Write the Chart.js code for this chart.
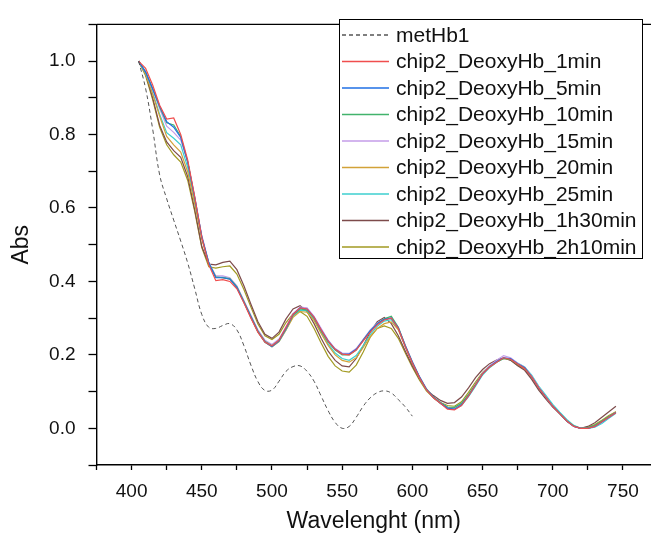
<!DOCTYPE html>
<html>
<head>
<meta charset="utf-8">
<script src="https://cdn.jsdelivr.net/npm/chart.js@4.4.1/dist/chart.umd.min.js"></script>
<style>
  html, body { margin: 0; padding: 0; background: #fff; overflow: hidden; }
</style>
</head>
<body>
<canvas id="spectra" width="651" height="535"></canvas>
<script>
// wavelengths (nm) of the chip2 scans
const wavelengths = [405, 410, 415, 420, 425, 430, 435, 440, 445, 450, 455, 460, 465, 470, 475, 480, 485, 490, 495, 500,
  505, 510, 515, 520, 525, 530, 535, 540, 545, 550, 555, 560, 565, 570, 575, 580, 585, 590, 595, 600,
  605, 610, 615, 620, 625, 630, 635, 640, 645, 650, 655, 660, 665, 670, 675, 680, 685, 690, 695, 700,
  705, 710, 715, 720, 725, 730, 735, 740, 745];

// reference scan only goes to 600 nm
const metWavelengths = [405, 410, 415, 420, 425, 430, 435, 440, 445, 450, 455, 460, 465, 470, 475, 480, 485, 490, 495, 500,
  505, 510, 515, 520, 525, 530, 535, 540, 545, 550, 555, 560, 565, 570, 575, 580, 585, 590, 595, 600];

const metHb1 = [1.0, 0.925, 0.815, 0.69, 0.625, 0.567, 0.51, 0.45, 0.38, 0.31, 0.275, 0.272, 0.28, 0.285, 0.268, 0.225, 0.172, 0.127, 0.103, 0.104,
  0.128, 0.155, 0.168, 0.17, 0.155, 0.128, 0.088, 0.048, 0.016, 0.0, 0.005, 0.03, 0.06, 0.083, 0.097, 0.102, 0.096, 0.078, 0.058, 0.033];

const deoxy1min = [1.0, 0.98, 0.935, 0.88, 0.842, 0.845, 0.8, 0.73, 0.63, 0.52, 0.445, 0.402, 0.405, 0.4, 0.38, 0.342, 0.3, 0.262, 0.235, 0.225,
  0.24, 0.275, 0.31, 0.328, 0.325, 0.302, 0.268, 0.237, 0.215, 0.202, 0.2, 0.213, 0.238, 0.262, 0.282, 0.295, 0.3, 0.272, 0.222, 0.178,
  0.138, 0.105, 0.083, 0.068, 0.052, 0.05, 0.062, 0.088, 0.118, 0.148, 0.167, 0.18, 0.192, 0.188, 0.175, 0.163, 0.14, 0.11, 0.085, 0.06,
  0.04, 0.02, 0.005, 0.0, 0.0, 0.005, 0.018, 0.03, 0.042];

const deoxy5min = [1.0, 0.97, 0.925, 0.878, 0.835, 0.82, 0.792, 0.725, 0.628, 0.522, 0.45, 0.41, 0.41, 0.406, 0.383, 0.343, 0.303, 0.263, 0.235, 0.223,
  0.238, 0.272, 0.31, 0.328, 0.325, 0.302, 0.268, 0.238, 0.215, 0.203, 0.202, 0.215, 0.24, 0.265, 0.285, 0.297, 0.3, 0.273, 0.224, 0.18,
  0.14, 0.106, 0.084, 0.068, 0.055, 0.052, 0.064, 0.088, 0.118, 0.148, 0.168, 0.182, 0.192, 0.19, 0.176, 0.165, 0.14, 0.11, 0.085, 0.06,
  0.04, 0.02, 0.005, 0.0, 0.0, 0.005, 0.017, 0.03, 0.043];

const deoxy10min = [1.0, 0.97, 0.925, 0.875, 0.832, 0.826, 0.795, 0.725, 0.625, 0.52, 0.45, 0.412, 0.41, 0.408, 0.385, 0.345, 0.305, 0.265, 0.237, 0.225,
  0.24, 0.272, 0.308, 0.325, 0.322, 0.3, 0.265, 0.235, 0.213, 0.2, 0.2, 0.213, 0.24, 0.265, 0.285, 0.298, 0.305, 0.275, 0.225, 0.18,
  0.14, 0.107, 0.085, 0.07, 0.058, 0.057, 0.068, 0.092, 0.12, 0.148, 0.167, 0.18, 0.19, 0.188, 0.175, 0.165, 0.14, 0.11, 0.085, 0.06,
  0.04, 0.02, 0.006, 0.0, 0.002, 0.008, 0.02, 0.032, 0.043];

const deoxy15min = [1.0, 0.97, 0.922, 0.87, 0.823, 0.806, 0.785, 0.725, 0.628, 0.525, 0.452, 0.415, 0.415, 0.41, 0.388, 0.348, 0.308, 0.268, 0.24, 0.228,
  0.243, 0.277, 0.312, 0.33, 0.328, 0.305, 0.272, 0.24, 0.217, 0.205, 0.204, 0.217, 0.242, 0.268, 0.287, 0.298, 0.302, 0.275, 0.226, 0.182,
  0.142, 0.108, 0.085, 0.07, 0.057, 0.055, 0.067, 0.09, 0.12, 0.15, 0.17, 0.185, 0.198, 0.192, 0.177, 0.166, 0.142, 0.112, 0.086, 0.06,
  0.04, 0.02, 0.005, 0.0, 0.0, 0.005, 0.017, 0.03, 0.043];

const deoxy20min = [1.0, 0.965, 0.91, 0.85, 0.795, 0.772, 0.752, 0.698, 0.61, 0.515, 0.448, 0.412, 0.41, 0.406, 0.384, 0.343, 0.302, 0.262, 0.234, 0.222,
  0.236, 0.268, 0.302, 0.318, 0.316, 0.293, 0.258, 0.226, 0.2, 0.185, 0.18, 0.192, 0.22, 0.25, 0.272, 0.285, 0.29, 0.268, 0.222, 0.178,
  0.138, 0.105, 0.083, 0.068, 0.057, 0.055, 0.066, 0.09, 0.12, 0.15, 0.168, 0.182, 0.19, 0.188, 0.175, 0.164, 0.14, 0.11, 0.085, 0.06,
  0.04, 0.02, 0.006, 0.0, 0.002, 0.008, 0.02, 0.032, 0.045];

const deoxy25min = [1.0, 0.965, 0.915, 0.855, 0.805, 0.79, 0.772, 0.71, 0.618, 0.52, 0.45, 0.412, 0.412, 0.408, 0.386, 0.345, 0.303, 0.263, 0.235, 0.222,
  0.236, 0.268, 0.305, 0.322, 0.32, 0.297, 0.262, 0.23, 0.205, 0.19, 0.185, 0.198, 0.225, 0.255, 0.278, 0.292, 0.296, 0.27, 0.222, 0.178,
  0.138, 0.105, 0.083, 0.068, 0.055, 0.052, 0.062, 0.086, 0.115, 0.145, 0.165, 0.18, 0.19, 0.19, 0.178, 0.167, 0.145, 0.115, 0.09, 0.065,
  0.044, 0.024, 0.008, 0.0, 0.0, 0.003, 0.013, 0.027, 0.041];

const deoxy1h30min = [1.0, 0.965, 0.9, 0.825, 0.78, 0.756, 0.738, 0.685, 0.595, 0.495, 0.447, 0.445, 0.452, 0.455, 0.432, 0.388, 0.338, 0.29, 0.256, 0.245,
  0.262, 0.298, 0.325, 0.334, 0.318, 0.285, 0.245, 0.21, 0.185, 0.17, 0.167, 0.19, 0.225, 0.262, 0.29, 0.302, 0.285, 0.252, 0.21, 0.17,
  0.135, 0.106, 0.089, 0.076, 0.068, 0.07, 0.085, 0.11, 0.138, 0.16, 0.176, 0.186, 0.192, 0.185, 0.17, 0.158, 0.133, 0.104, 0.08, 0.058,
  0.04, 0.02, 0.006, 0.0, 0.005, 0.015, 0.03, 0.045, 0.06];

const deoxy2h10min = [1.0, 0.96, 0.895, 0.82, 0.772, 0.745, 0.725, 0.675, 0.59, 0.492, 0.44, 0.436, 0.44, 0.442, 0.42, 0.378, 0.33, 0.284, 0.252, 0.242,
  0.256, 0.288, 0.312, 0.318, 0.305, 0.272, 0.232, 0.196, 0.17, 0.156, 0.153, 0.172, 0.208, 0.248, 0.272, 0.279, 0.272, 0.245, 0.205, 0.166,
  0.132, 0.102, 0.083, 0.07, 0.062, 0.06, 0.072, 0.098, 0.126, 0.152, 0.17, 0.182, 0.19, 0.186, 0.172, 0.162, 0.138, 0.108, 0.083, 0.06,
  0.04, 0.02, 0.006, 0.0, 0.003, 0.01, 0.022, 0.035, 0.045];

const seriesNames = ['chip2_DeoxyHb_1min', 'chip2_DeoxyHb_5min', 'chip2_DeoxyHb_10min', 'chip2_DeoxyHb_15min',
  'chip2_DeoxyHb_20min', 'chip2_DeoxyHb_25min', 'chip2_DeoxyHb_1h30min', 'chip2_DeoxyHb_2h10min'];
const seriesValues = [deoxy1min, deoxy5min, deoxy10min, deoxy15min, deoxy20min, deoxy25min, deoxy1h30min, deoxy2h10min];
const seriesColors = ['#F04E4E', '#1F6FE5', '#42B36C', '#C49CE8', '#D2A238', '#3CCFCF', '#7D4B4B', '#A29A22'];

const FONT = 'Arial, "Liberation Sans", Helvetica, sans-serif';

const toPoints = (xs, ys) => xs.map((x, i) => ({ x: x, y: ys[i] }));

const datasets = [{
  label: 'metHb1',
  data: toPoints(metWavelengths, metHb1),
  borderColor: '#555555',
  borderWidth: 1,
  borderDash: [4, 3],
  tension: 0.4,
  pointRadius: 0,
  fill: false
}];
seriesValues.forEach((vals, i) => {
  datasets.push({
    label: seriesNames[i],
    data: toPoints(wavelengths, vals),
    borderColor: seriesColors[i],
    borderWidth: 1.2,
    tension: 0,
    pointRadius: 0,
    fill: false
  });
});

// top frame line of the plot box
const frame = {
  id: 'frame',
  afterDraw(chart) {
    const { ctx, chartArea } = chart;
    ctx.save();
    ctx.strokeStyle = '#000';
    ctx.lineWidth = 1.4;
    ctx.beginPath();
    ctx.moveTo(chartArea.left, chartArea.top);
    ctx.lineTo(chartArea.right, chartArea.top);
    ctx.stroke();
    ctx.restore();
  }
};

// boxed legend in the upper right, like the Origin one
const boxLegend = {
  id: 'boxLegend',
  afterDraw(chart) {
    const ctx = chart.ctx;
    const x0 = 339, y0 = 19, w = 303, h = 239, row = 26.5, first = 35;
    ctx.save();
    ctx.fillStyle = '#fff';
    ctx.fillRect(x0, y0, w, h);
    ctx.strokeStyle = '#000';
    ctx.lineWidth = 1;
    ctx.strokeRect(x0 + 0.5, y0 + 0.5, w, h);
    ctx.font = '21px ' + FONT;
    ctx.textBaseline = 'middle';
    chart.data.datasets.forEach((ds, i) => {
      const y = first + i * row;
      ctx.strokeStyle = ds.borderColor;
      ctx.lineWidth = 1.5;
      ctx.setLineDash(ds.borderDash || []);
      ctx.beginPath();
      ctx.moveTo(342, y);
      ctx.lineTo(389, y);
      ctx.stroke();
      ctx.setLineDash([]);
      ctx.fillStyle = '#111';
      ctx.fillText(ds.label, 396, y + 1);
    });
    ctx.restore();
  }
};

new Chart(document.getElementById('spectra').getContext('2d'), {
  type: 'line',
  data: { datasets: datasets },
  options: {
    responsive: false,
    animation: false,
    devicePixelRatio: 1,
    layout: { padding: { top: 13.5, right: 0, bottom: 0, left: 0 } },
    plugins: {
      legend: { display: false },
      tooltip: { enabled: false }
    },
    scales: {
      x: {
        type: 'linear',
        min: 375,
        max: 770,
        border: { color: '#000', width: 1.4 },
        grid: { drawOnChartArea: false, drawTicks: true, tickLength: 5, color: '#000', tickWidth: 1.3 },
        ticks: {
          stepSize: 25,
          includeBounds: false,
          autoSkip: false,
          maxRotation: 0,
          padding: 10,
          color: '#111',
          font: { family: FONT, size: 19 },
          callback: v => (v % 50 === 0 ? String(v) : '')
        },
        title: {
          display: true,
          text: 'Wavelenght (nm)',
          color: '#111',
          font: { family: FONT, size: 23 },
          padding: { top: 0, bottom: 0 }
        },
        afterFit: s => { s.height = 70; }
      },
      y: {
        min: -0.1,
        max: 1.1,
        border: { color: '#000', width: 1.4 },
        grid: { drawOnChartArea: false, drawTicks: true, tickLength: 8, color: '#000', tickWidth: 1.3 },
        ticks: {
          stepSize: 0.1,
          includeBounds: false,
          autoSkip: false,
          padding: 13,
          color: '#111',
          font: { family: FONT, size: 19 },
          callback: v => {
            const k = Math.round(v * 10);
            return k % 2 === 0 ? (k / 10).toFixed(1) : '';
          }
        },
        title: {
          display: true,
          text: 'Abs',
          color: '#111',
          font: { family: FONT, size: 23 },
          padding: { top: 8, bottom: 0 }
        },
        afterFit: s => { s.width = 96.5; }
      }
    }
  },
  plugins: [frame, boxLegend]
});
</script>
</body>
</html>
